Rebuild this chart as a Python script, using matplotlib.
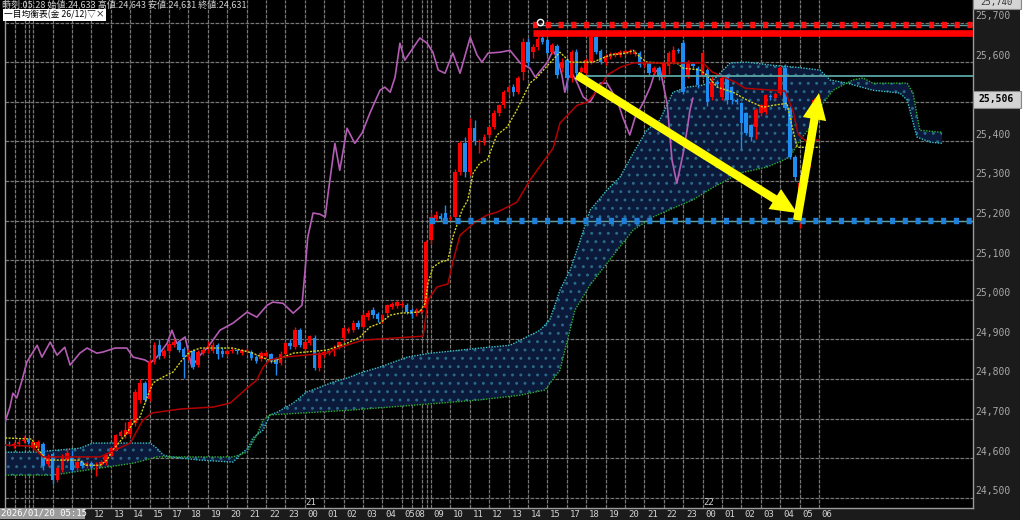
import numpy as np
import matplotlib
matplotlib.use("Agg")
import matplotlib.pyplot as plt
from matplotlib.patches import Rectangle, FancyArrowPatch, ArrowStyle
from matplotlib.transforms import blended_transform_factory

plt.rcParams['font.family'] = ['Noto Sans CJK JP', 'DejaVu Sans']
plt.rcParams['hatch.linewidth'] = 0.9

# 15 minute candles, bar 0 = 2026/01/20 05:15
opens = [24633, 24631, 24636, 24642, 24645, 24626, 24628, 24635, 24585, 24610, 24545, 24570,
         24595, 24600, 24575, 24590, 24580, 24588, 24580, 24582, 24588, 24605, 24625, 24655,
         24658, 24660, 24688, 24748, 24790, 24750, 24843, 24885, 24858, 24870, 24885, 24892,
         24875, 24855, 24870, 24835, 24865, 24878, 24870, 24885, 24870, 24862, 24870, 24872,
         24865, 24870, 24868, 24855, 24850, 24858, 24862, 24850, 24840, 24862, 24890, 24880,
         24923, 24875, 24890, 24903, 24827, 24860, 24866, 24872, 24880, 24903, 24920, 24923,
         24940, 24931, 24956, 24973, 24963, 24946, 24966, 24981, 24983, 24986, 24986, 24974,
         24966, 24968, 24980, 25150, 25205, 25212, 25218, 25203, 25209, 25322, 25395, 25322,
         25433, 25398, 25395, 25416, 25436, 25471, 25491, 25524, 25537, 25524, 25575, 25651,
         25625, 25638, 25661, 25656, 25625, 25640, 25585, 25605, 25560, 25625, 25575, 25572,
         25600, 25663, 25628, 25600, 25612, 25618, 25618, 25622, 25625, 25620, 25623, 25592,
         25598, 25575, 25585, 25565, 25590, 25600, 25630, 25648, 25567, 25595, 25585, 25567,
         25580, 25512, 25550, 25512, 25567, 25537, 25505, 25497, 25471, 25441, 25436, 25471,
         25474, 25515, 25510, 25522, 25585, 25484, 25360, 25257, 25282, 25335, 25416, 25495]
highs = [24643, 24640, 24648, 24655, 24652, 24648, 24645, 24640, 24610, 24615, 24580, 24610,
         24625, 24620, 24598, 24595, 24592, 24592, 24590, 24595, 24612, 24630, 24662, 24672,
         24690, 24700, 24775, 24800, 24795, 24850, 24893, 24900, 24875, 24895, 24900, 24898,
         24880, 24875, 24875, 24872, 24878, 24895, 24892, 24890, 24880, 24875, 24878, 24876,
         24876, 24878, 24872, 24860, 24870, 24870, 24866, 24855, 24870, 24895, 24900, 24930,
         24928, 24897, 24912, 24910, 24870, 24873, 24875, 24885, 24897, 24932, 24930, 24948,
         24950, 24968, 24975, 24981, 24968, 24965, 24990, 24995, 25000, 24996, 24992, 24978,
         24978, 24980, 25150, 25218, 25225, 25220, 25240, 25212, 25330, 25400, 25410, 25460,
         25455, 25405, 25418, 25440, 25478, 25495, 25530, 25542, 25545, 25565, 25660, 25660,
         25645, 25665, 25668, 25660, 25648, 25645, 25610, 25610, 25630, 25632, 25590, 25610,
         25673, 25668, 25632, 25620, 25625, 25626, 25630, 25632, 25633, 25630, 25628, 25602,
         25600, 25590, 25590, 25600, 25628, 25640, 25635, 25655, 25605, 25600, 25590, 25628,
         25585, 25565, 25555, 25565, 25570, 25540, 25510, 25500, 25475, 25445, 25485, 25495,
         25520, 25520, 25525, 25590, 25595, 25490, 25365, 25300, 25345, 25420, 25510, 25520]
lows = [24631, 24625, 24630, 24638, 24636, 24620, 24622, 24570, 24580, 24535, 24540, 24565,
        24590, 24565, 24570, 24575, 24576, 24572, 24555, 24578, 24583, 24600, 24620, 24650,
        24652, 24655, 24682, 24740, 24742, 24745, 24838, 24850, 24852, 24865, 24880, 24868,
        24802, 24848, 24825, 24830, 24860, 24865, 24865, 24850, 24855, 24858, 24865, 24864,
        24860, 24866, 24848, 24840, 24845, 24855, 24840, 24810, 24835, 24858, 24875, 24876,
        24880, 24870, 24886, 24822, 24820, 24855, 24860, 24858, 24875, 24895, 24915, 24918,
        24925, 24928, 24950, 24955, 24945, 24940, 24960, 24976, 24978, 24982, 24965, 24955,
        24960, 24964, 24975, 25140, 25200, 25200, 25195, 25198, 25205, 25315, 25310, 25315,
        25390, 25370, 25390, 25410, 25430, 25465, 25485, 25518, 25515, 25520, 25555, 25590,
        25610, 25630, 25645, 25618, 25620, 25560, 25575, 25530, 25550, 25560, 25570, 25568,
        25595, 25620, 25595, 25592, 25608, 25612, 25614, 25618, 25620, 25615, 25588, 25588,
        25568, 25570, 25555, 25560, 25570, 25595, 25622, 25520, 25560, 25585, 25535, 25560,
        25490, 25505, 25538, 25505, 25495, 25495, 25495, 25380, 25415, 25400, 25405, 25465,
        25470, 25505, 25505, 25518, 25480, 25355, 25300, 25180, 25275, 25330, 25410, 25490]
closes = [24631, 24636, 24640, 24645, 24640, 24640, 24640, 24580, 24600, 24545, 24575, 24603,
          24613, 24570, 24590, 24580, 24588, 24578, 24582, 24590, 24608, 24625, 24658, 24665,
          24670, 24690, 24767, 24790, 24748, 24843, 24885, 24858, 24870, 24888, 24892, 24873,
          24855, 24870, 24830, 24868, 24873, 24880, 24885, 24862, 24862, 24870, 24872, 24870,
          24872, 24873, 24853, 24845, 24865, 24866, 24845, 24838, 24862, 24890, 24882, 24923,
          24885, 24893, 24908, 24827, 24865, 24868, 24870, 24873, 24893, 24928, 24925, 24941,
          24931, 24961, 24966, 24961, 24951, 24961, 24986, 24990, 24994, 24990, 24970, 24965,
          24973, 24975, 25145, 25210, 25215, 25205, 25201, 25206, 25322, 25395, 25322, 25433,
          25400, 25400, 25411, 25436, 25471, 25491, 25524, 25537, 25524, 25560, 25651, 25600,
          25638, 25658, 25651, 25623, 25643, 25567, 25600, 25560, 25625, 25572, 25585, 25605,
          25663, 25625, 25600, 25615, 25620, 25622, 25625, 25628, 25628, 25625, 25592, 25598,
          25572, 25585, 25562, 25598, 25623, 25630, 25628, 25524, 25598, 25590, 25542, 25623,
          25499, 25550, 25545, 25560, 25504, 25504, 25500, 25446, 25421, 25411, 25479, 25491,
          25517, 25512, 25520, 25585, 25484, 25360, 25310, 25294, 25340, 25416, 25504, 25506]

# ichimoku lines as (bar, price) vertices
tenkan_x = [-0.8, 4.7, 5.8, 7.8, 14.6, 15.7, 18.8, 20.2, 21.4, 24.3, 25.6, 27.0, 28.5, 29.7,
            31.8, 33.8, 35.7, 37.3, 39.4, 46.2, 50.3, 54.4, 56.5, 58.6, 65.6, 69.7, 72.4,
            74.4, 76.5, 78.6, 80.6, 84.7, 85.8, 86.4, 87.4, 88.9, 90.5, 91.5, 93.4, 94.6,
            95.7, 97.1, 98.6, 100.6, 102.7, 104.7, 107.4, 108.9, 111.5, 113.6, 115.7, 120.4,
            123.9, 127.4, 128.7, 130.1, 131.5, 134.2, 137.7, 139.0, 142.5, 143.9, 146.0,
            149.3, 152.2, 155.5, 157.5, 160.4, 161.4, 162.5, 167.2]
tenkan_y = [24651, 24648, 24625, 24595, 24595, 24582, 24582, 24595, 24620, 24663, 24689,
            24704, 24754, 24790, 24805, 24817, 24848, 24868, 24878, 24878, 24865, 24843,
            24855, 24865, 24873, 24890, 24906, 24931, 24941, 24961, 24966, 24969, 24991,
            25042, 25082, 25095, 25100, 25158, 25226, 25252, 25320, 25345, 25353, 25416,
            25436, 25479, 25547, 25562, 25598, 25625, 25600, 25600, 25618, 25623, 25630,
            25613, 25600, 25598, 25598, 25585, 25580, 25567, 25537, 25524, 25504, 25486,
            25491, 25496, 25441, 25385, 25385]

kijun_x = [-0.8, 4.7, 7.0, 18.8, 25.0, 27.6, 29.5, 35.3, 42.1, 45.6, 49.1, 51.1, 52.4, 53.8,
           56.5, 65.6, 68.2, 73.0, 85.4, 86.4, 88.2, 90.5, 91.5, 93.0, 96.1, 98.6, 100.6,
           104.7, 107.4, 112.2, 113.6, 117.1, 119.2, 121.9, 123.3, 126.0, 128.7, 143.1,
           145.0, 149.7, 151.8, 160.0, 161.6, 162.7, 164.1, 167.0]
kijun_y = [24633, 24630, 24603, 24603, 24638, 24696, 24714, 24724, 24729, 24739, 24777,
           24797, 24830, 24848, 24855, 24865, 24880, 24898, 24908, 24999, 25032, 25040,
           25095, 25163, 25196, 25214, 25221, 25246, 25302, 25383, 25446, 25491, 25499,
           25537, 25567, 25587, 25598, 25598, 25575, 25550, 25534, 25527, 25479, 25418,
           25403, 25403]

chikou_x = [-0.8, 0.2, 0.8, 1.6, 2.7, 3.7, 5.8, 6.8, 8.5, 9.9, 11.5, 12.6, 14.6, 16.1, 18.1,
            19.4, 21.9, 24.3, 25.6, 28.0, 29.1, 30.5, 32.6, 33.6, 34.6, 36.3, 37.7, 39.4,
            41.0, 43.5, 46.2, 49.1, 51.1, 53.2, 54.4, 56.5, 58.6, 60.4, 61.0, 61.6, 62.7,
            64.1, 65.2, 65.8, 67.2, 68.2, 69.7, 71.3, 72.8, 74.4, 76.5, 77.5, 78.6, 79.6,
            80.6, 81.6, 84.7, 86.2, 87.4, 88.5, 89.9, 91.5, 93.0, 95.1, 96.5, 97.5, 98.8,
            101.2, 103.3, 105.4, 107.4, 108.5, 110.9, 112.2, 113.2, 114.0, 114.6, 115.3,
            116.1, 117.1, 118.4, 119.8, 120.4, 121.9, 123.3, 125.4, 126.6, 128.0, 129.1,
            130.7, 132.2, 133.2, 134.2, 135.7, 136.7, 137.7, 139.0, 139.8, 140.4, 141.0]
chikou_y = [24691, 24729, 24764, 24752, 24797, 24843, 24885, 24855, 24893, 24860, 24880,
            24835, 24865, 24878, 24865, 24868, 24878, 24878, 24855, 24848, 24840, 24855,
            24890, 24923, 24890, 24906, 24830, 24860, 24880, 24923, 24941, 24969, 24956,
            24986, 24994, 24991, 24966, 24986, 25067, 25158, 25219, 25216, 25209, 25269,
            25395, 25327, 25433, 25395, 25421, 25471, 25529, 25537, 25524, 25562, 25648,
            25605, 25661, 25648, 25625, 25580, 25572, 25623, 25572, 25663, 25618, 25600,
            25623, 25625, 25630, 25598, 25585, 25562, 25598, 25630, 25605, 25567, 25524,
            25560, 25572, 25549, 25512, 25499, 25512, 25547, 25547, 25504, 25459, 25416,
            25461, 25496, 25537, 25575, 25585, 25496, 25353, 25294, 25370, 25428, 25479,
            25509]

span_a_x = [-0.8, 4.9, 14.6, 17.3, 29.1, 30.5, 31.8, 33.2, 39.4, 46.2, 47.6, 49.3, 50.3,
            52.4, 53.8, 55.3, 58.6, 61.4, 64.1, 66.8, 69.7, 72.4, 76.5, 82.1, 86.8, 90.9,
            97.1, 103.3, 109.5, 111.5, 113.6, 115.7, 117.1, 119.8, 123.3, 126.0, 128.7,
            131.5, 134.2, 136.9, 139.8, 143.1, 145.2, 148.7, 152.2, 157.5, 162.5, 167.2,
            169.3, 172.8, 178.1, 183.7, 185.2, 187.2, 189.9, 192.4]
span_a_y = [24615, 24615, 24625, 24638, 24638, 24625, 24608, 24603, 24595, 24590, 24608,
            24625, 24651, 24671, 24709, 24716, 24739, 24767, 24779, 24792, 24802, 24815,
            24830, 24855, 24865, 24870, 24878, 24885, 24923, 24949, 25024, 25075, 25125,
            25226, 25277, 25310, 25370, 25428, 25454, 25524, 25537, 25542, 25555, 25598,
            25600, 25592, 25587, 25580, 25555, 25547, 25529, 25522, 25504, 25411, 25398,
            25395]
span_b_x = [-0.8, 9.1, 18.8, 25.6, 30.5, 46.2, 49.1, 51.1, 52.4, 53.8, 70.3, 88.9, 97.1,
            105.4, 110.5, 113.6, 116.7, 119.8, 125.4, 128.7, 132.8, 136.9, 141.0, 145.2,
            150.7, 156.3, 161.0, 163.1, 165.2, 167.2, 169.9, 174.0, 176.1, 178.1, 185.2,
            186.4, 187.8, 192.4]
span_b_y = [24557, 24557, 24575, 24587, 24603, 24603, 24615, 24658, 24696, 24709, 24721,
            24739, 24747, 24759, 24772, 24822, 24974, 25037, 25125, 25176, 25209, 25231,
            25252, 25284, 25320, 25335, 25360, 25403, 25436, 25486, 25529, 25555, 25560,
            25547, 25547, 25522, 25428, 25423]

# hour grid (bar positions) and their labels
grid_bars = [5, 9, 13, 17, 21, 25, 29, 33, 37, 41, 45, 49, 53, 57, 61, 65, 69, 73, 77, 81,
             83, 87, 91, 95, 99, 103, 107, 111, 115, 119, 123, 127, 131, 135, 139, 143, 147,
             151, 155, 159, 163, 167]
session_bars = [1.2, 3.3, 4.1, 85.2, 86.2]
hour_labels = ['12', '13', '14', '15', '17', '18', '19', '20', '21', '22', '23', '00', '01',
               '02', '03', '04', '05', '08', '09', '10', '11', '12', '13', '14', '15', '17',
               '18', '19', '20', '21', '22', '23', '00', '01', '02', '03', '04', '05', '06']
price_ticks = [24500, 24600, 24700, 24800, 24900, 25000, 25100, 25200, 25300, 25400, 25600,
               25700]

last_price = 25506
top_price = 25740
resist_solid = 25673
resist_dash = 25693
support = 25200
teal_level = 25565
arrow_down = [(117.1, 25567), (162.5, 25219)]
arrow_up = [(162.5, 25201), (167.0, 25522)]

fig = plt.figure(figsize=(10.24, 5.25), dpi=100, facecolor='white')
bg_kw = dict(transform=fig.transFigure, edgecolor='none', zorder=-10)
fig.patches.append(Rectangle((0, 5 / 525), 1020 / 1024, 520 / 525, facecolor='black', **bg_kw))
fig.patches.append(Rectangle((973 / 1024, 5 / 525), 47 / 1024, 520 / 525, facecolor='#1b1b1b', **bg_kw))
fig.patches.append(Rectangle((0, 5 / 525), 1020 / 1024, 12 / 525, facecolor='#1b1b1b', **bg_kw))
fig.patches.append(Rectangle((0, 6 / 525), 85 / 1024, 11 / 525, facecolor='#9c9c9c', **bg_kw))

ax = fig.add_axes([5 / 1024, 17 / 525, 968 / 1024, 508 / 525])
ax.set_facecolor('black')
ax.set_xlim(-0.82, 198.76)
ax.set_ylim(24474, 25757)
ax.set_xticks([])
ax.set_yticks([])
for side in ['left', 'right', 'bottom']:
    ax.spines[side].set_color('#9a9a9a')
    ax.spines[side].set_linewidth(1.0)
ax.spines['top'].set_visible(False)

grid_kw = dict(color='#767676', lw=0.9, ls=(0, (3, 1)), zorder=0.5)
for p in price_ticks + [25500]:
    ax.axhline(p, **grid_kw)
for b in grid_bars + session_bars:
    ax.axvline(b, **grid_kw)

# cloud
poly_x = np.r_[span_a_x, span_b_x[::-1]]
poly_y = np.r_[span_a_y, span_b_y[::-1]]
ax.fill(poly_x, poly_y, facecolor='#0b1a3a', edgecolor='#2a6a88', hatch='..', linewidth=0, zorder=1)
ax.plot(span_a_x, span_a_y, color='#3cc3c8', lw=1.0, ls=(0, (1, 1)), zorder=2)
ax.plot(span_b_x, span_b_y, color='#2fb02f', lw=1.0, ls=(0, (1, 1)), zorder=2)

ax.plot(chikou_x, chikou_y, color='#b45cb4', lw=1.2, zorder=3)

# candles
o = np.array(opens)
h = np.array(highs)
l = np.array(lows)
c = np.array(closes)
bars = np.arange(len(o))
cols = np.where(c >= o, '#ff0000', '#1e8cf0')
ax.vlines(bars, l, h, colors=cols, lw=1.0, zorder=4)
ax.bar(bars, np.maximum(np.abs(c - o), 3), bottom=np.minimum(o, c), width=0.74,
       color=cols, linewidth=0, zorder=5)

ax.plot(tenkan_x, tenkan_y, color='#d2d21e', lw=1.0, ls=(0, (1.5, 1)), zorder=6)
ax.plot(kijun_x, kijun_y, color='#b40000', lw=1.1, zorder=6)

# drawn levels
right = 198.76
ax.hlines(resist_solid, 108, right, color='#ff0000', lw=4.8, zorder=8)
ax.hlines(resist_dash, 108, right, color='#5f9ea0', lw=1.0, zorder=8)
ax.hlines(resist_dash, 108, right, color='#ff1010', lw=4.6, linestyles=[(0, (0.8, 1.2))], zorder=9)
ax.plot(109.5, 25702, marker='o', mfc='none', mec='white', ms=4.5, mew=1, zorder=10)
ax.hlines(support, 86.8, right, color='#5f9ea0', lw=1.0, zorder=8)
ax.hlines(support, 86.8, right, color='#1e80d8', lw=4.6, linestyles=[(0, (0.8, 1.2))], zorder=9)
ax.hlines(teal_level, 117, right, color='#5aa5a5', lw=1.3, zorder=8)

for tail, head in [arrow_down, arrow_up]:
    arr = FancyArrowPatch(tail, head, arrowstyle=ArrowStyle.Simple(head_length=19, head_width=17, tail_width=6),
                          mutation_scale=1, facecolor='#ffff00', edgecolor='none',
                          shrinkA=0, shrinkB=0, zorder=11)
    ax.add_patch(arr)

# axis labels
ytr = blended_transform_factory(ax.transAxes, ax.transData)
for p in price_ticks:
    ax.text(1.002, p + 4, f'{p:,}', transform=ytr, ha='left', va='bottom', color='#a8a8a8',
            fontsize=7, family='DejaVu Sans Mono', clip_on=False)

ax.add_patch(Rectangle((1.0, last_price - 21), 48 / 968, 42, transform=ytr, facecolor='#d4d4d4',
                       edgecolor='#8a8a8a', lw=0.8, clip_on=False, zorder=12))
ax.text(1.024, last_price, f'{last_price:,}', transform=ytr, ha='center', va='center', color='black',
        fontsize=7, fontweight='bold', family='DejaVu Sans Mono', clip_on=False, zorder=13)
ax.add_patch(Rectangle((1.0, top_price - 6), 48 / 968, 40, transform=ytr, facecolor='#d4d4d4',
                       edgecolor='#8a8a8a', lw=0.8, clip_on=False, zorder=12))
ax.text(1.024, top_price + 10, f'{top_price:,}', transform=ytr, ha='center', va='center', color='#333333',
        fontsize=6.5, family='DejaVu Sans Mono', clip_on=False, zorder=13)

xtr = blended_transform_factory(ax.transData, ax.transAxes)
for b, lab in zip(grid_bars[3:], hour_labels):
    ax.text(b + 0.6, -0.004, lab, transform=xtr, ha='left', va='top', color='#d2d2d2',
            fontsize=6.5, family='DejaVu Sans Mono', clip_on=False)
ax.text(61.2, 24488, '21', color='#d2d2d2', fontsize=6.5, family='DejaVu Sans Mono', va='center')
ax.text(143.1, 24488, '22', color='#d2d2d2', fontsize=6.5, family='DejaVu Sans Mono', va='center')
fig.text(1 / 1024, 11.5 / 525, '2026/01/20 05:15', color='white', fontsize=6.5,
         family='DejaVu Sans Mono', va='center', ha='left')

fig.text(2 / 1024, 1 - 4.5 / 525, '時刻:05:28 始値:24,633 高値:24,643 安値:24,631 終値:24,631',
         color='#cfcfcf', fontsize=6.5, va='center', ha='left')
fig.text(4 / 1024, 1 - 15 / 525, '一目均衡表(金 26/12)▽×', color='black', fontsize=6.3,
         va='center', ha='left', bbox=dict(facecolor='white', edgecolor='none', pad=0.6))

fig.savefig('out.png', dpi=100, facecolor=fig.get_facecolor())
